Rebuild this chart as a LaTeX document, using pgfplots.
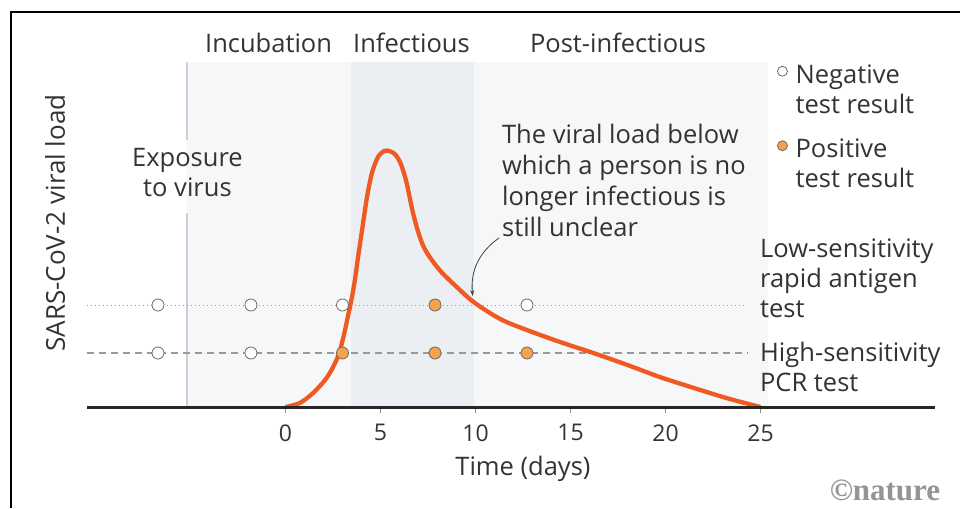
\documentclass[border=0pt]{standalone}
\usepackage{fontspec}
\setmainfont{Open Sans}
\newfontfamily\natfont{Liberation Serif}
\usepackage{pgfplots}
\pgfplotsset{compat=1.18}
\usetikzlibrary{arrows.meta}
\definecolor{shadeA}{HTML}{F6F7F9}
\definecolor{shadeB}{HTML}{EBEEF2}
\definecolor{expline}{HTML}{C9D1DC}
\definecolor{curvecol}{HTML}{EF5A23}
\definecolor{posfill}{HTML}{F5A24A}
\definecolor{txt}{HTML}{333333}
\definecolor{mkdraw}{HTML}{6A6A6A}
\newcommand{\lbl}{\fontsize{25.5}{30}\selectfont}
\begin{document}
\begin{tikzpicture}
\begin{axis}[
  x=19pt, y=1pt,
  xmin=-10.45, xmax=34.2, ymin=0, ymax=345,
  axis x line=bottom, axis y line=none,
  axis line style={-, line width=3pt, color=black!85},
  xtick={0,5,10,15,20,25},
  tick align=outside, major tick length=6pt,
  tick style={line width=1pt, color=black!45},
  xticklabel style={font=\fontsize{23}{27}\selectfont, text=txt},
  xticklabel shift=8pt,
  /pgf/number format/assume math mode=true,
  ytick=\empty,
  clip=false,
  axis on top,
  legend cell align=left,
  legend style={draw=none, fill=none, at={(axis cs:25.87,347)}, anchor=north west,
    font=\lbl, text=txt, row sep=48pt, inner sep=0pt},
  legend image code/.code={\path (-5pt,0pt) (11pt,0pt); \draw[#1,mark size=5pt] plot coordinates {(0pt,0.22em)};},
]
% background shading
\fill[shadeA] (axis cs:-5.19,0) rectangle (axis cs:25.39,345);
\fill[shadeB] (axis cs:3.45,0) rectangle (axis cs:9.92,345);
\draw[expline, line width=1.5pt] (axis cs:-5.19,0) -- (axis cs:-5.19,194);
\draw[expline, line width=1.5pt] (axis cs:-5.19,267) -- (axis cs:-5.19,345);
% test lines
\addplot[forget plot, black!40, line width=1pt, dash pattern=on 1pt off 3pt] coordinates {(-10.45,102) (24.18,102)};
\addplot[forget plot, black!40, line width=2pt, dash pattern=on 7pt off 5pt] coordinates {(-10.45,54) (24.3,54)};
% viral load curve
\addplot[forget plot, curvecol, line width=4.3pt, smooth, tension=0.5] coordinates {
(0,0) (0.75,4) (1.45,14) (2.2,30) (2.75,50) (3.05,70) (3.3,92) (3.5,110)
(3.66,128) (3.82,150) (4.03,177) (4.29,210) (4.55,234) (4.87,250) (5.2,256)
(5.45,256) (5.75,253) (6.05,244) (6.35,226) (6.7,195) (7.0,174) (7.3,159)
(7.7,147) (8.2,135) (8.9,122) (9.9,105) (11.3,88) (12.7,77) (14.45,65)
(16.2,54) (18.0,42) (19.7,30) (21.5,19) (23.2,9) (25,0)};
% test results
\addplot[only marks, mark=*, mark size=6pt, mark options={fill=white, draw=mkdraw, line width=0.8pt}]
 coordinates {(-6.71,102) (-1.82,102) (3.0,102) (12.71,102) (-6.71,54) (-1.82,54)};
\addlegendentry{\begin{tabular}[t]{@{}l@{}}Negative\\test result\end{tabular}}
\addplot[only marks, mark=*, mark size=6pt, mark options={fill=posfill, draw=mkdraw, line width=0.8pt}]
 coordinates {(7.87,102) (3.0,54) (7.87,54) (12.71,54)};
\addlegendentry{\begin{tabular}[t]{@{}l@{}}Positive\\test result\end{tabular}}
% texts
\node[font=\lbl, text=txt] at (axis cs:-0.89,364) {Incubation};
\node[font=\lbl, text=txt] at (axis cs:6.63,364) {Infectious};
\node[font=\lbl, text=txt] at (axis cs:17.5,364) {Post-infectious};
\node[font=\lbl, text=txt, align=center] at (axis cs:-5.16,234) {Exposure\\to virus};
\node[font=\fontsize{25.5}{31}\selectfont, text=txt, align=left, anchor=west, inner sep=0pt] at (axis cs:11.39,227)
 {The viral load below\\which a person is no\\longer infectious is\\still unclear};
\node[font=\lbl, text=txt, align=left, anchor=west, inner sep=0pt] at (axis cs:24.97,129)
 {Low-sensitivity\\rapid antigen\\test};
\node[font=\lbl, text=txt, align=left, anchor=west, inner sep=0pt] at (axis cs:24.97,40)
 {High-sensitivity\\PCR test};
\node[font=\fontsize{26}{30}\selectfont, text=txt, rotate=90] at (axis cs:-12.13,184) {SARS-CoV-2 viral load};
\node[font=\lbl, text=txt] at (axis cs:12.5,-62) {Time (days)};
\node[font=\natfont\bfseries\fontsize{31}{31}\selectfont, text=black!42] at (axis cs:31.55,-83) {©nature};
\draw[-{Stealth[length=6pt,width=4pt]}, black!75, line width=0.8pt]
 (axis cs:11.24,169) to[out=215, in=95] (axis cs:9.85,111);
% frame
\draw[line width=2pt, black] (axis cs:-14.45,-101) -- (axis cs:-14.45,395) -- (axis cs:35.5,395);
\coordinate (bbA) at (axis cs:-15.026,407);
\coordinate (bbB) at (axis cs:35.5,-101);
\end{axis}
\pgfresetboundingbox
\path[use as bounding box] (bbA) rectangle (bbB);
\end{tikzpicture}
\end{document}
